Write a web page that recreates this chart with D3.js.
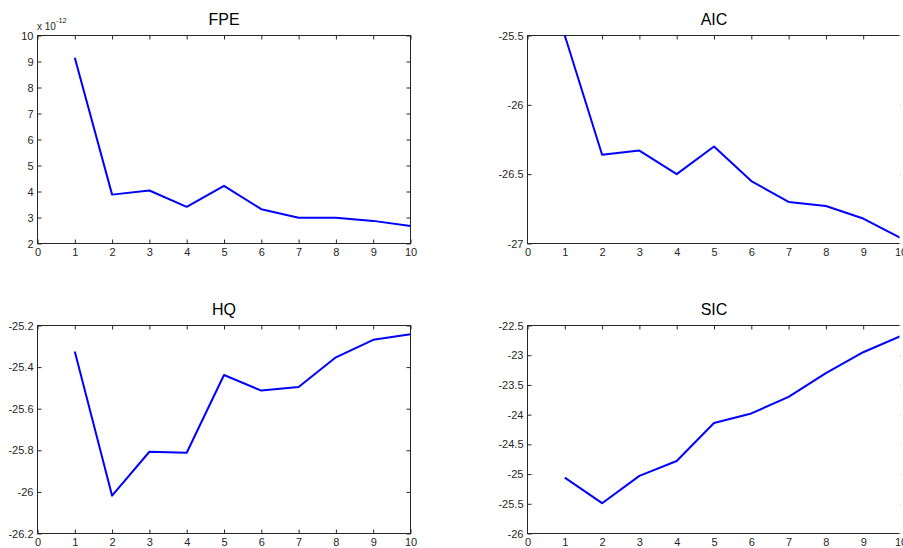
<!DOCTYPE html>
<html>
<head>
<meta charset="utf-8">
<script src="https://cdn.jsdelivr.net/npm/d3@7"></script>
<style>
  html, body { margin: 0; padding: 0; background: #fff; }
  svg { display: block; font-family: "Liberation Sans", Arial, sans-serif; }
  .tick text { fill: #262626; font-size: 11px; }
  .tick line { stroke: #262626; }
</style>
</head>
<body>
<svg id="chart" width="903" height="548"></svg>
<script>
// Lag order criteria for a VAR model, lags 1..10
const lags = [1, 2, 3, 4, 5, 6, 7, 8, 9, 10];
const xTicks = [0, 1, 2, 3, 4, 5, 6, 7, 8, 9, 10];

// Final prediction error, in units of 1e-12
const fpe = [9.14, 3.88, 4.04, 3.41, 4.22, 3.32, 2.99, 2.99, 2.87, 2.67];
const fpeTicks = [2, 3, 4, 5, 6, 7, 8, 9, 10];

// Akaike information criterion
const aic = [-25.50, -26.36, -26.33, -26.50, -26.30, -26.55, -26.70, -26.73, -26.82, -26.96];
const aicTicks = [-27, -26.5, -26, -25.5];

// Hannan-Quinn criterion
const hq = [-25.325, -26.018, -25.807, -25.812, -25.438, -25.513, -25.496, -25.353, -25.269, -25.242];
const hqTicks = [-26.2, -26, -25.8, -25.6, -25.4, -25.2];

// Schwarz information criterion
const sic = [-25.06, -25.49, -25.03, -24.78, -24.14, -23.98, -23.70, -23.30, -22.95, -22.68];
const sicTicks = [-26, -25.5, -25, -24.5, -24, -23.5, -23, -22.5];

const svg = d3.select("#chart");

// Clip used to trim the right column at the page edge
svg.append("defs").append("clipPath").attr("id", "pageClip")
  .append("rect").attr("x", 0).attr("y", 0).attr("width", 899.5).attr("height", 548);

const panels = [
  { title: "FPE", values: fpe, ticks: fpeTicks, domain: [2, 10], left: 37.5, right: 410.5, top: 35.5, bottom: 243.5, exponent: "-12" },
  { title: "AIC", values: aic, ticks: aicTicks, domain: [-27, -25.5], left: 527.5, right: 900.5, top: 35.5, bottom: 243.5 },
  { title: "HQ", values: hq, ticks: hqTicks, domain: [-26.2, -25.2], left: 37.5, right: 410.5, top: 325.5, bottom: 533.5 },
  { title: "SIC", values: sic, ticks: sicTicks, domain: [-26, -22.5], left: 527.5, right: 900.5, top: 325.5, bottom: 533.5 }
];

panels.forEach(p => {
  const g = svg.append("g");
  const x = d3.scaleLinear().domain([0, 10]).range([p.left, p.right]);
  const y = d3.scaleLinear().domain(p.domain).range([p.bottom, p.top]);
  const clipped = p.right > 899 ? "url(#pageClip)" : null;

  const fmt = d => String(d);

  // Bottom axis with labels, ticks pointing inward
  g.append("g").attr("transform", `translate(0,${p.bottom})`)
    .call(d3.axisBottom(x).tickValues(xTicks).tickFormat(d3.format("d"))
      .tickSizeInner(-4).tickSizeOuter(0).tickPadding(5))
    .call(a => a.select(".domain").remove())
    .call(a => a.selectAll(".tick line").attr("clip-path", clipped));

  // Top axis: ticks only
  g.append("g").attr("transform", `translate(0,${p.top})`)
    .attr("clip-path", clipped)
    .call(d3.axisTop(x).tickValues(xTicks).tickFormat("")
      .tickSizeInner(-4).tickSizeOuter(0))
    .call(a => a.select(".domain").remove());

  // Left axis with labels
  g.append("g").attr("transform", `translate(${p.left},0)`)
    .call(d3.axisLeft(y).tickValues(p.ticks).tickFormat(fmt)
      .tickSizeInner(-4).tickSizeOuter(0).tickPadding(4))
    .call(a => a.select(".domain").remove());

  // Right axis: ticks only
  g.append("g").attr("transform", `translate(${p.right},0)`)
    .attr("clip-path", clipped)
    .call(d3.axisRight(y).tickValues(p.ticks).tickFormat("")
      .tickSizeInner(-4).tickSizeOuter(0))
    .call(a => a.select(".domain").remove());

  // Plot frame
  g.append("rect")
    .attr("x", p.left).attr("y", p.top)
    .attr("width", p.right - p.left).attr("height", p.bottom - p.top)
    .attr("fill", "none").attr("stroke", "#262626").attr("stroke-width", 1)
    .attr("clip-path", clipped);

  // Criterion line
  const line = d3.line().x((d, i) => x(lags[i])).y(d => y(d));
  g.append("path")
    .datum(p.values)
    .attr("d", line)
    .attr("fill", "none")
    .attr("stroke", "#0000ff")
    .attr("stroke-width", 2)
    .attr("stroke-linejoin", "round")
    .attr("clip-path", clipped);

  // Title
  g.append("text")
    .attr("x", (p.left + p.right) / 2)
    .attr("y", p.top - 10.5)
    .attr("text-anchor", "middle")
    .attr("font-size", 16)
    .attr("fill", "#000")
    .text(p.title);

  // Axis multiplier
  if (p.exponent) {
    const t = g.append("text")
      .attr("x", p.left - 0.5)
      .attr("y", p.top - 5.5)
      .attr("font-size", 10)
      .attr("fill", "#262626");
    t.append("tspan").text("x 10");
    t.append("tspan").attr("dy", -7).attr("font-size", 7.5).text(p.exponent);
  }
});
</script>
</body>
</html>
